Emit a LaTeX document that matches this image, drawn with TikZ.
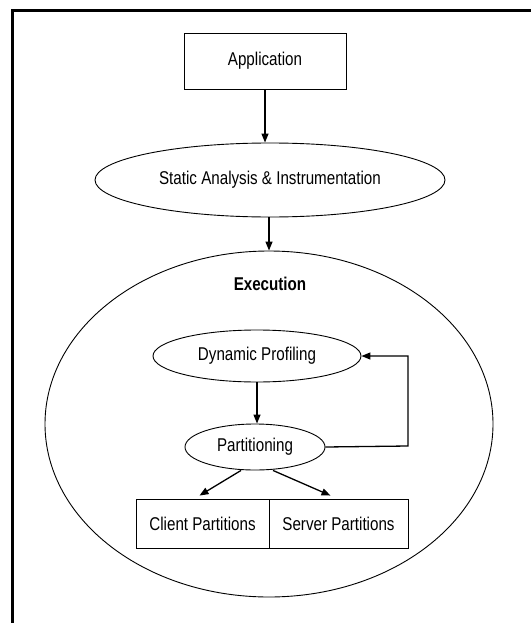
\documentclass[tikz,border=0pt]{standalone}
\usepackage{fontspec}
\setmainfont{Liberation Sans}[FakeStretch=0.82]
\usetikzlibrary{shapes.geometric,arrows.meta}
\begin{document}
\begin{tikzpicture}[x=1pt,y=-1pt,
  every node/.style={font=\fontsize{18.5}{21}\selectfont, text=black},
  ell/.style={draw, ellipse, line width=0.9pt, inner sep=0pt},
  boxn/.style={draw, rectangle, line width=0.9pt, inner sep=0pt},
  conn/.style={line width=1.3pt, -{Triangle[length=9pt,width=7pt]}}]
\useasboundingbox (0,0) rectangle (531,623);
\fill[white] (0,0) rectangle (531,623);
\draw[line width=3pt] (12,623) -- (12,11) -- (531,11);

\node[boxn, minimum width=162pt, minimum height=56pt] (app) at (265,61) {Application};
\node[ell, minimum width=350pt, minimum height=74pt] (static) at (270,180) {Static Analysis \& Instrumentation};
\node[ell, minimum width=448pt, minimum height=346pt] (exec) at (269,424) {};
\node (exectitle) at (270,284) {\bfseries Execution};
\node[ell, minimum width=208pt, minimum height=52pt] (dyn) at (257,356) {Dynamic Profiling};
\node[ell, minimum width=140pt, minimum height=46pt] (part) at (255,447) {Partitioning};
\node[boxn, minimum width=133pt, minimum height=49pt] (client) at (202.5,523.5) {Client Partitions};
\node[boxn, minimum width=139pt, minimum height=49pt] (server) at (338.5,523.5) {Server Partitions};

\coordinate (fb) at (408,446);

\draw[conn] (app.south) -- (app.south |- static.north);
\draw[conn] (static.south -| exec.north) -- (exec.north);
\draw[conn] (dyn.south) -- (dyn.south |- part.north);
\draw[conn] (part.east) -- (fb) |- (dyn.east);
\draw[conn] ([xshift=-14pt]part.south) -- ([xshift=-3pt,yshift=3pt]client.north);
\draw[conn] ([xshift=18pt]part.south) -- ([xshift=-8pt,yshift=3pt]server.north);
\end{tikzpicture}
\end{document}
